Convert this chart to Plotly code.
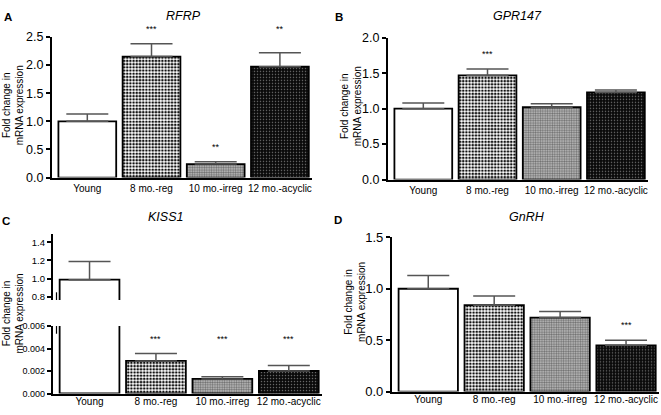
import plotly.graph_objects as go

W, H = 661, 415
categories = ["Young", "8 mo.-reg", "10 mo.-irreg", "12 mo.-acyclic"]

rfrp_vals = [1.0, 2.15, 0.24, 1.97]
rfrp_err = [0.13, 0.23, 0.04, 0.25]
rfrp_sig = ["", "***", "**", "**"]

gpr147_vals = [1.0, 1.47, 1.02, 1.23]
gpr147_err = [0.08, 0.09, 0.05, 0.035]
gpr147_sig = ["", "***", "", ""]

kiss1_vals = [0.99, 0.0029, 0.0013, 0.0020]
kiss1_err = [0.20, 0.00065, 0.00018, 0.00048]
kiss1_sig = ["", "***", "***", "***"]

gnrh_vals = [1.0, 0.84, 0.72, 0.45]
gnrh_err = [0.13, 0.09, 0.06, 0.05]
gnrh_sig = ["", "", "", "***"]

FONT = "Liberation Sans, Arial, Helvetica, sans-serif"

# per-category fill styles
styles = [
    dict(color="white", pattern=dict(shape="")),
    dict(color="white", pattern=dict(shape=".", fgcolor="#111111", bgcolor="white",
                                      size=3.2, solidity=0.5, fillmode="overlay",
                                      fgopacity=1)),
    dict(color="#c2c2c2", pattern=dict(shape=".", fgcolor="#6e6e6e", bgcolor="#c2c2c2",
                                        size=2.4, solidity=0.5, fillmode="overlay",
                                        fgopacity=1)),
    dict(color="#0a0a0a", pattern=dict(shape=".", fgcolor="#6a6a6a", bgcolor="#0a0a0a",
                                        size=3, solidity=0.2, fillmode="overlay",
                                        fgopacity=1)),
]


def px(x):
    return x / W


def py(y):
    return 1 - y / H


fig = go.Figure()


def add_bars(vals, errs, xa, ya):
    for c, v, e, st in zip(categories, vals, errs, styles):
        fig.add_trace(go.Bar(
            x=[c], y=[v], xaxis=xa, yaxis=ya, width=0.9,
            marker=dict(color=st["color"], line=dict(color="black", width=1.8),
                        pattern=st["pattern"]),
            error_y=dict(type="data", symmetric=False, array=[e], arrayminus=[0],
                         color="#555555", thickness=1.5, width=21),
            showlegend=False, hoverinfo="skip",
        ))


add_bars(rfrp_vals, rfrp_err, "x", "y")
add_bars(gpr147_vals, gpr147_err, "x2", "y2")
add_bars(kiss1_vals, kiss1_err, "x3", "y3")
add_bars(kiss1_vals, kiss1_err, "x4", "y4")
add_bars(gnrh_vals, gnrh_err, "x5", "y5")

xcommon = dict(showline=True, linecolor="black", linewidth=2, ticks="",
               tickfont=dict(family=FONT, size=10, color="black"),
               range=[-0.55, 3.5], showgrid=False, zeroline=False, fixedrange=True,
               categoryorder="array", categoryarray=categories)
ycommon = dict(showline=True, linecolor="black", linewidth=2.2, ticks="outside",
               ticklen=4, tickwidth=1.5, tickcolor="black", showgrid=False,
               zeroline=False, fixedrange=True)

dom = {
    "y": ([py(177), py(31)], [0, 2.5]),
    "y2": ([py(179), py(32)], [0, 2.0]),
    "y3": ([py(401), py(331)], [0, 0.006]),
    "y4": ([py(304), py(235)], [0.768, 1.495]),
    "y5": ([py(399), py(239)], [0, 1.5]),
}

fig.update_layout(
    width=W, height=H, margin=dict(l=0, r=0, t=0, b=0),
    paper_bgcolor="white", plot_bgcolor="white", barmode="overlay",
    font=dict(family=FONT, color="black"),
    xaxis=dict(xcommon, domain=[px(52), px(312)], anchor="y"),
    yaxis=dict(ycommon, domain=dom["y"][0], range=dom["y"][1], dtick=0.5,
               tickformat=".1f", anchor="x", tickfont=dict(size=12.5)),
    xaxis2=dict(xcommon, domain=[px(388), px(648)], anchor="y2"),
    yaxis2=dict(ycommon, domain=dom["y2"][0], range=dom["y2"][1], dtick=0.5,
                tickformat=".1f", anchor="x2", tickfont=dict(size=12.5)),
    xaxis3=dict(xcommon, domain=[px(53), px(322)], anchor="y3", ticklabelstandoff=-3),
    yaxis3=dict(ycommon, domain=dom["y3"][0], range=dom["y3"][1], dtick=0.002,
                tickformat=".3f", anchor="x3", tickfont=dict(size=9)),
    xaxis4=dict(xcommon, domain=[px(53), px(322)], anchor="y4", showline=False,
                showticklabels=False),
    yaxis4=dict(ycommon, domain=dom["y4"][0], range=dom["y4"][1],
                tickvals=[0.8, 1.0, 1.2, 1.4], tickformat=".1f", anchor="x4",
                tickfont=dict(size=9.5)),
    xaxis5=dict(xcommon, domain=[px(392), px(659)], anchor="y5", ticklabelstandoff=-3),
    yaxis5=dict(ycommon, domain=dom["y5"][0], range=dom["y5"][1], dtick=0.5,
                tickformat=".1f", anchor="x5", tickfont=dict(size=13)),
)


def to_paper(val, ya):
    (d0, d1), (r0, r1) = dom[ya]
    return d0 + (val - r0) / (r1 - r0) * (d1 - d0)


ann = []
# significance stars: placed above the error bar; stars of bars of similar
# height within one panel share a common level
for sig, vals, errs, xr, yr in [
    (rfrp_sig, rfrp_vals, rfrp_err, "x", "y"),
    (gpr147_sig, gpr147_vals, gpr147_err, "x2", "y2"),
    (kiss1_sig, kiss1_vals, kiss1_err, "x3", "y3"),
    (gnrh_sig, gnrh_vals, gnrh_err, "x5", "y5"),
]:
    tops = [v + e for s, v, e in zip(sig, vals, errs) if s]
    level = max(tops)
    for c, s, v, e in zip(categories, sig, vals, errs):
        if s:
            top = level if (v + e) >= 0.4 * level else v + e
            ann.append(dict(x=c, y=to_paper(top, yr) + 8 / H, xref=xr, yref="paper",
                            text=s, showarrow=False, font=dict(size=9, family=FONT),
                            xanchor="center", yanchor="bottom"))

# titles
for t, x, y in [("RFRP", 183, 9), ("GPR147", 517, 9), ("KISS1", 165, 218),
                ("GnRH", 527, 218)]:
    ann.append(dict(x=px(x), y=py(y), xref="paper", yref="paper",
                    text="<i>%s</i>" % t, showarrow=False, xanchor="center",
                    yanchor="middle", font=dict(size=12.5, family=FONT)))
# panel letters
for t, x, y in [("A", 8, 10), ("B", 339, 10), ("C", 6, 222), ("D", 338, 221)]:
    ann.append(dict(x=px(x), y=py(y), xref="paper", yref="paper",
                    text="<b>%s</b>" % t, showarrow=False, xanchor="center",
                    yanchor="middle", font=dict(size=11.5, family=FONT)))
# y-axis titles
for x, y in [(13, 102), (351, 103), (13, 318), (355, 306)]:
    ann.append(dict(x=px(x), y=py(y), xref="paper", yref="paper",
                    text="Fold change in<br>mRNA expression", textangle=-90,
                    xanchor="center", yanchor="middle",
                    showarrow=False, font=dict(size=10, family=FONT)))

# axis-break marks on panel C (doubled axis line at the break)
shapes = []
for y0, y1 in [(296, 304), (331, 339)]:
    shapes.append(dict(type="line", xref="paper", yref="paper",
                       x0=px(56.5), x1=px(56.5), y0=py(y1), y1=py(y0),
                       line=dict(color="black", width=1.2)))

fig.update_layout(annotations=ann, shapes=shapes)
fig.write_html("out.html", config={"displayModeBar": False},
               post_script="document.body.style.margin='0';")
